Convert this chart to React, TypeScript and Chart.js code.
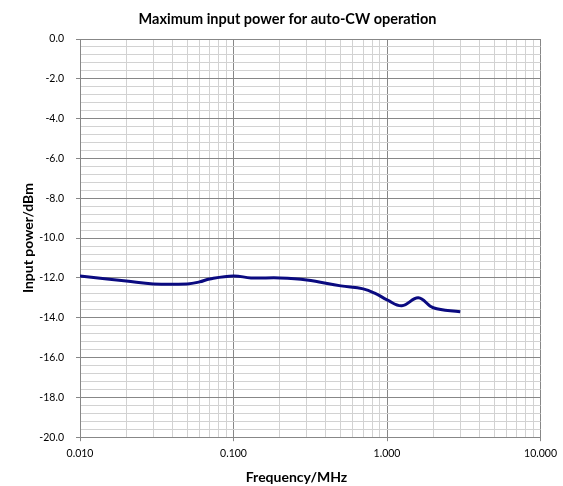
import React, { useEffect, useRef } from "react";
import { Chart, registerables } from "chart.js";

Chart.register(...registerables);

const TITLE = "Maximum input power for auto-CW operation";
const X_TITLE = "Frequency/MHz";
const Y_TITLE = "Input power/dBm";

const frequencies = [0.01, 0.015, 0.02, 0.03, 0.05, 0.06, 0.07, 0.1, 0.13, 0.2, 0.3, 0.5, 0.7, 0.85, 1.0, 1.25, 1.6, 2.0, 3.0];
const inputPower = [-11.9, -12.05, -12.15, -12.3, -12.3, -12.2, -12.05, -11.9, -12.0, -12.0, -12.1, -12.4, -12.55, -12.8, -13.1, -13.4, -13.0, -13.5, -13.7];

const xMajorTicks = [0.01, 0.1, 1, 10];
const yMajorTicks = [0, -2, -4, -6, -8, -10, -12, -14, -16, -18, -20];
const yMinorStep = 0.4;

const MAJOR_COLOR = "#878787";
const MINOR_COLOR = "#d2d2d2";
const FONT = "Lato, 'Liberation Sans', sans-serif";

const isXMajor = (v: number) => xMajorTicks.some((m) => Math.abs(v - m) / m < 1e-6);
const isYMajor = (v: number) => yMajorTicks.some((m) => Math.abs(v - m) < 1e-6);

// shift the centred title boxes horizontally, as in the reference
const titleShift = {
  id: "titleShift",
  afterLayout(chart: any) {
    for (const box of chart.boxes) {
      const text = box && box.options && box.options.text;
      if (text === TITLE) {
        box.left += 9;
        box.right += 9;
      } else if (text === X_TITLE) {
        box.left += 18;
        box.right += 18;
      }
    }
  },
};

export default function App() {
  const ref = useRef<HTMLCanvasElement | null>(null);

  useEffect(() => {
    document.body.style.margin = "0";
    const canvas = ref.current;
    if (!canvas) return;

    const points = frequencies.map((f, i) => ({ x: f, y: inputPower[i] }));

    const chart = new Chart(canvas, {
      type: "scatter",
      data: {
        datasets: [
          {
            data: points,
            showLine: true,
            borderColor: "#0a0a80",
            backgroundColor: "#0a0a80",
            borderWidth: 3,
            pointRadius: 0,
            tension: 0.4,
          },
        ],
      },
      plugins: [titleShift],
      options: {
        animation: false,
        responsive: false,
        layout: { padding: { left: 13, right: 19, top: 0, bottom: 0 } },
        plugins: {
          legend: { display: false },
          tooltip: { enabled: false },
          title: {
            display: true,
            text: TITLE,
            color: "#000",
            font: { family: FONT, size: 14.5, weight: "bold" },
            padding: { top: 11, bottom: 10.6 },
          },
          subtitle: {
            display: true,
            position: "bottom",
            text: X_TITLE,
            color: "#000",
            font: { family: FONT, size: 14, weight: "bold" },
            padding: { top: 9, bottom: 0 },
          },
        },
        scales: {
          x: {
            type: "logarithmic",
            min: 0.01,
            max: 10,
            afterBuildTicks: (scale: any) => {
              const ticks: { value: number }[] = [];
              for (let d = 0; d < xMajorTicks.length - 1; d++) {
                for (let m = 1; m <= 9; m++) ticks.push({ value: xMajorTicks[d] * m });
              }
              ticks.push({ value: xMajorTicks[xMajorTicks.length - 1] });
              scale.ticks = ticks;
            },
            afterFit: (scale: any) => {
              scale.height = 23;
            },
            ticks: {
              autoSkip: false,
              maxRotation: 0,
              padding: 6,
              color: "#000",
              font: { family: FONT, size: 10.5 },
              callback: (value: any) => (isXMajor(Number(value)) ? Number(value).toFixed(3) : ""),
            },
            grid: {
              color: (ctx: any) => (isXMajor(ctx.tick.value) ? MAJOR_COLOR : MINOR_COLOR),
              tickColor: (ctx: any) => (isXMajor(ctx.tick.value) ? MAJOR_COLOR : "rgba(0,0,0,0)"),
              tickLength: 4,
              lineWidth: 1,
            },
            border: { color: MAJOR_COLOR, width: 1 },
          },
          y: {
            type: "linear",
            min: -20,
            max: 0,
            afterBuildTicks: (scale: any) => {
              const ticks: { value: number }[] = [];
              const n = Math.round(20 / yMinorStep);
              for (let k = 0; k <= n; k++) {
                ticks.push({ value: Math.round((-20 + k * yMinorStep) * 1000) / 1000 });
              }
              scale.ticks = ticks;
            },
            afterFit: (scale: any) => {
              scale.width = 67;
            },
            ticks: {
              autoSkip: false,
              padding: 12,
              color: "#000",
              font: { family: FONT, size: 10.5 },
              callback: (value: any) => (isYMajor(Number(value)) ? Number(value).toFixed(1) : ""),
            },
            grid: {
              color: (ctx: any) => (isYMajor(ctx.tick.value) ? MAJOR_COLOR : MINOR_COLOR),
              tickColor: (ctx: any) => (isYMajor(ctx.tick.value) ? MAJOR_COLOR : "rgba(0,0,0,0)"),
              tickLength: 4,
              lineWidth: 1,
            },
            border: { color: MAJOR_COLOR, width: 1 },
            title: {
              display: true,
              text: Y_TITLE,
              color: "#000",
              font: { family: FONT, size: 14, weight: "bold" },
              padding: { top: 6.6, bottom: 0 },
            },
          },
        },
      },
    });

    return () => chart.destroy();
  }, []);

  return (
    <div style={{ width: 563, height: 486 }}>
      <canvas ref={ref} width={563} height={486} style={{ display: "block" }} />
    </div>
  );
}
